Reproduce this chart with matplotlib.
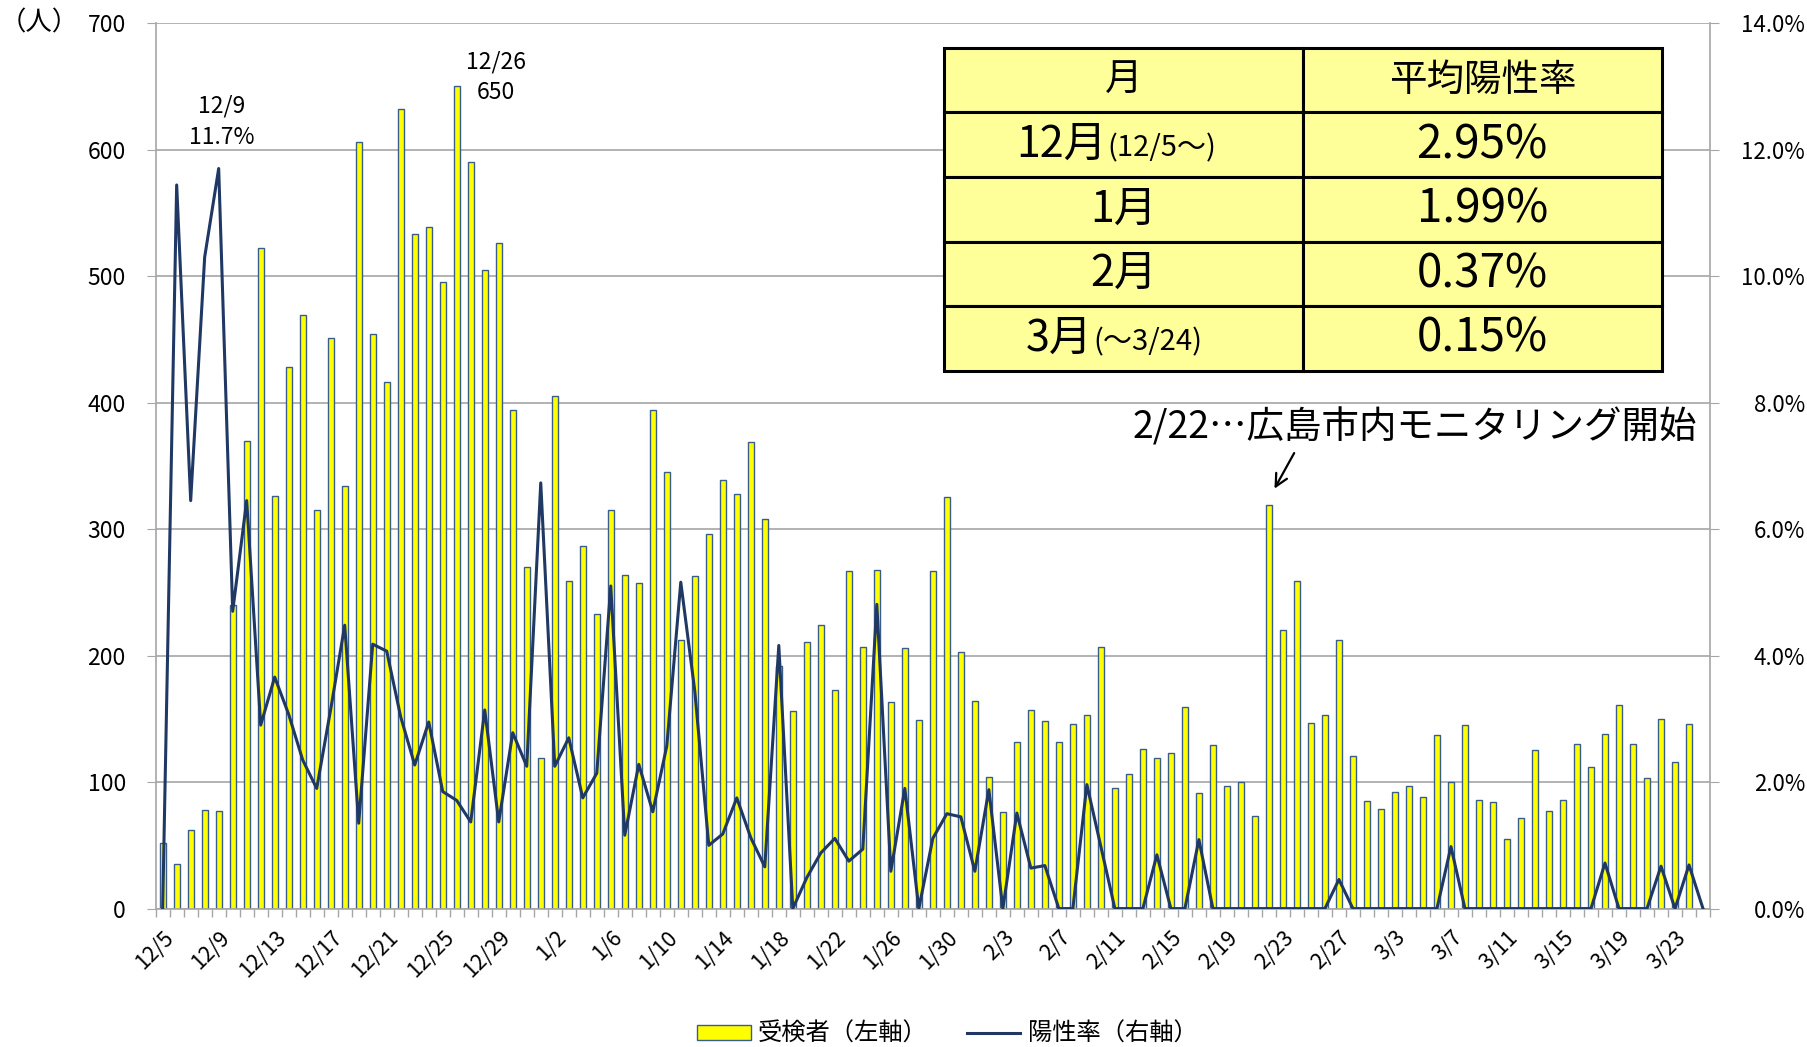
import numpy as np
import pandas as pd
import matplotlib
matplotlib.use('Agg')
import matplotlib.pyplot as plt
from matplotlib.patches import Patch
from matplotlib.lines import Line2D
from matplotlib.ticker import MultipleLocator, FuncFormatter

plt.rcParams['font.family'] = ['Noto Sans CJK JP', 'DejaVu Sans']

# daily categories 12/5 .. 3/25 (last one is empty)
dates = pd.date_range('2020-12-05', '2021-03-25')
date_labels = [f"{d.month}/{d.day}" for d in dates]

# number tested (left axis)
tested_dec = [52, 35, 62, 78, 77, 240, 370, 522, 326, 428, 469, 315, 451, 334, 606,
              454, 416, 632, 533, 539, 495, 650, 590, 505, 526, 394, 270]
tested_jan = [119, 405, 259, 287, 233, 315, 264, 257, 394, 345, 212, 263, 296, 339, 328,
              369, 308, 192, 156, 211, 224, 173, 267, 207, 268, 163, 206, 149, 267, 325, 203]
tested_feb = [164, 104, 76, 132, 157, 148, 132, 146, 153, 207, 95, 106, 126, 119, 123,
              159, 91, 129, 97, 100, 73, 319, 220, 259, 147, 153, 212, 121]
tested_mar = [85, 79, 92, 97, 88, 137, 100, 145, 86, 84, 55, 72, 125, 77, 86,
              130, 112, 138, 161, 130, 103, 150, 116, 146, 0]

# positive rate in % (right axis)
rate_dec = [0, 11.44, 6.45, 10.3, 11.7, 4.7, 6.45, 2.9, 3.66, 3.07, 2.35, 1.9, 3.15, 4.48, 1.35,
            4.18, 4.07, 3.03, 2.27, 2.95, 1.85, 1.71, 1.37, 3.14, 1.37, 2.78, 2.25]
rate_jan = [6.73, 2.25, 2.7, 1.75, 2.14, 5.1, 1.16, 2.28, 1.53, 2.57, 5.16, 3.44, 1.0, 1.18, 1.75,
            1.12, 0.66, 4.16, 0, 0.49, 0.88, 1.11, 0.75, 0.94, 4.81, 0.59, 1.9, 0, 1.11, 1.5, 1.45]
rate_feb = [0.59, 1.88, 0, 1.51, 0.64, 0.68, 0, 0, 1.96, 0.98, 0, 0, 0, 0.85, 0,
            0, 1.09, 0, 0, 0, 0, 0, 0, 0, 0, 0, 0.46, 0]
rate_mar = [0, 0, 0, 0, 0, 0, 0.98, 0, 0, 0, 0, 0, 0, 0, 0,
            0, 0, 0.72, 0, 0, 0, 0.67, 0, 0.69, 0]

tested = tested_dec + tested_jan + tested_feb + tested_mar
rate = rate_dec + rate_jan + rate_feb + rate_mar

# monthly summary table
table_months = ['12月', '1月', '2月', '3月']
table_notes = ['(12/5～)', '', '', '(～3/24)']
table_rates = ['2.95%', '1.99%', '0.37%', '0.15%']

GRAY = '#A6A6A6'

fig = plt.figure(figsize=(18.08, 10.47), dpi=100)
ax = fig.add_axes([0.0861, 0.1322, 0.8597, 0.8458])
x = np.arange(len(tested))

ax.bar(x, tested, width=0.42, color='#FFFF00', edgecolor='#385D8A', linewidth=1.0, zorder=2)
ax.set_xlim(-0.5, len(x) - 0.5)
ax.set_ylim(0, 700)
ax.yaxis.set_major_locator(MultipleLocator(100))
ax.grid(axis='y', color=GRAY, linewidth=1.2, zorder=0)
ax.set_axisbelow(True)

ax.set_xticks(x[::4])
ax.set_xticklabels(date_labels[::4], rotation=45, ha='right', rotation_mode='anchor')
ax.set_xticks(np.arange(-0.5, len(x), 1), minor=True)
ax.tick_params(axis='x', which='major', length=0, pad=13, labelsize=15.5)
ax.tick_params(axis='x', which='minor', length=6, color=GRAY, width=1)
ax.tick_params(axis='y', length=6.5, color=GRAY, pad=15, labelsize=16.5)

for s in ['top', 'right']:
    ax.spines[s].set_visible(False)
for s in ['left', 'bottom']:
    ax.spines[s].set_color(GRAY)
    ax.spines[s].set_linewidth(1.2)

ax2 = ax.twinx()
ax2.plot(x, rate, color='#1F3864', linewidth=2.2, zorder=3)
ax2.set_ylim(0, 14)
ax2.yaxis.set_major_locator(MultipleLocator(2))
ax2.yaxis.set_major_formatter(FuncFormatter(lambda v, p: f"{v:.1f}%"))
ax2.tick_params(axis='y', length=6.5, color=GRAY, pad=62, labelsize=16)
for lbl in ax2.get_yticklabels():
    lbl.set_ha('right')
for s in ['top', 'left', 'bottom']:
    ax2.spines[s].set_visible(False)
ax2.spines['right'].set_color(GRAY)
ax2.spines['right'].set_linewidth(1.2)

# annotations
ax.text(4.2, 622, '12/9\n11.7%', ha='center', va='center', fontsize=16.5, linespacing=1.45)
ax.text(23.8, 657, '12/26\n650', ha='center', va='center', fontsize=16.5, linespacing=1.45)
ax.text(89.4, 380, '2/22…広島市内モニタリング開始', ha='center', va='center', fontsize=27)
ax.annotate('', xy=(79.3, 330), xytext=(80.9, 362),
            arrowprops=dict(arrowstyle='->', lw=1.6, color='black', mutation_scale=22))

# summary table
cell_text = [['月', '平均陽性率']]
for m, n, r in zip(table_months, table_notes, table_rates):
    cell_text.append([m if n == '' else '', r])
tbl = ax2.table(cellText=cell_text, cellLoc='center', bbox=[0.507, 0.607, 0.462, 0.365])
tbl.auto_set_font_size(False)
for (r, c), cell in tbl.get_celld().items():
    cell.set_facecolor('#FFFF99')
    cell.set_edgecolor('black')
    cell.set_linewidth(2.2)
    cell.get_text().set_fontsize(27 if r == 0 else (33 if c == 1 else 31))
    cell.set_zorder(5)

row_h = 0.365 / 5
split_x = {0: 0.612, 3: 0.603}
for i, (m, n) in enumerate(zip(table_months, table_notes)):
    if n == '':
        continue
    yc = 0.972 - row_h * (i + 1.5)
    ax2.text(split_x[i], yc, m, transform=ax2.transAxes, ha='right', va='center',
             fontsize=31, zorder=6)
    ax2.text(split_x[i], yc - 0.004, n, transform=ax2.transAxes, ha='left', va='center',
             fontsize=21, zorder=6)

fig.text(0.0, 1 - 23 / 1047, '（人）', ha='left', va='center', fontsize=19)

handles = [Patch(facecolor='#FFFF00', edgecolor='#385D8A', linewidth=1.0),
           Line2D([0], [0], color='#1F3864', linewidth=2.2)]
fig.legend(handles, ['受検者（左軸）', '陽性率（右軸）'], loc='center',
           bbox_to_anchor=(0.524, 1 - 1034 / 1047), ncol=2, frameon=False, fontsize=17.5,
           handlelength=2.2, handleheight=0.6, columnspacing=1.6, handletextpad=0.3)

fig.savefig('out.png', dpi=100)
